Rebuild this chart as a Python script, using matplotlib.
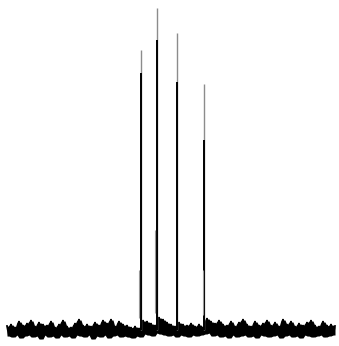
import numpy as np
import matplotlib.pyplot as plt

# --- Spectrum data (field in channel units, intensity relative to baseline) ---
field_start, field_step = 7, 2
baseline_signal = [
    4, -6, 6, -7, 3, -5, 9, -8, 5, -6,
    7, -5, 10, -7, 4, -6, 8, -9, 6, -5,
    5, -7, 9, -6, 3, -8, 6, -5, 10, -7,
    4, -6, 3, -8, 7, -5, 11, -6, 5, -7,
    6, -5, 4, -9, 8, -6, 5, -7, 10, -5,
    7, -8, 11, -6, 4, -5, 9, -7, 6, -6,
    5, -7, 3, -8, 4, -6, 2, -7, 10, -4,
    9, -5, 7, -6, 5, -3, 13, -4, 11, -5,
    8, -6, 6, -5, 4, -7, 8, -5, 6, -6,
    5, -7, 7, -5, 4, -6, 6, -5, 3, -4,
    12, -3, 9, -6, 7, -5, 10, -7, 6, -6,
    5, -8, 9, -5, 4, -7, 8, -6, 11, -5,
    6, -7, 4, -6, 9, -8, 5, -5, 7, -6,
    10, -7, 5, -6, 8, -5, 4, -8, 11, -6,
    6, -5, 9, -7, 4, -6, 7, -8, 5, -5,
    8, -6, 10, -7, 5, -6, 4, -5, 9, -7,
    5, -6, 6, -5, 4,
]

# Main resonance lines: position, peak height, height of the dense lower part
peak_pos = [140.5, 156.5, 176.5, 204.0]
peak_height = [280, 322, 297, 246]
peak_solid = [257, 290, 248, 190]

# Weak shoulder lines next to the main ones: position, bottom, top
shoulder_pos = [138.5, 155.0, 202.5]
shoulder_low = [12, 17, 15]
shoulder_high = [60, 100, 60]

field = field_start + field_step * np.arange(len(baseline_signal))
sig = np.array(baseline_signal, dtype=float)

# local envelope of the noisy trace, so the baseline reads as a filled band
padded = np.pad(sig, 1, mode='edge')
upper = np.maximum.reduce([padded[:-2], padded[1:-1], padded[2:]])
lower = np.minimum.reduce([padded[:-2], padded[1:-1], padded[2:]])

fig = plt.figure(figsize=(3.39, 3.46), dpi=100)
ax = fig.add_axes([0, 0, 1, 1])

ax.fill_between(field, lower, upper - 1, color='black', lw=0)
ax.plot(field, baseline_signal, color='black', lw=1.3, solid_joinstyle='miter')

ax.vlines(peak_pos, 0, peak_height, color='0.55', lw=1.0)
ax.vlines(peak_pos, 0, peak_solid, color='black', lw=1.4)
ax.vlines(shoulder_pos, shoulder_low, shoulder_high, color='0.6', lw=0.8)

ax.set_xlim(0, 339)
ax.set_ylim(-16, 330)
ax.axis('off')

fig.savefig('out.png', dpi=100, facecolor='white')
